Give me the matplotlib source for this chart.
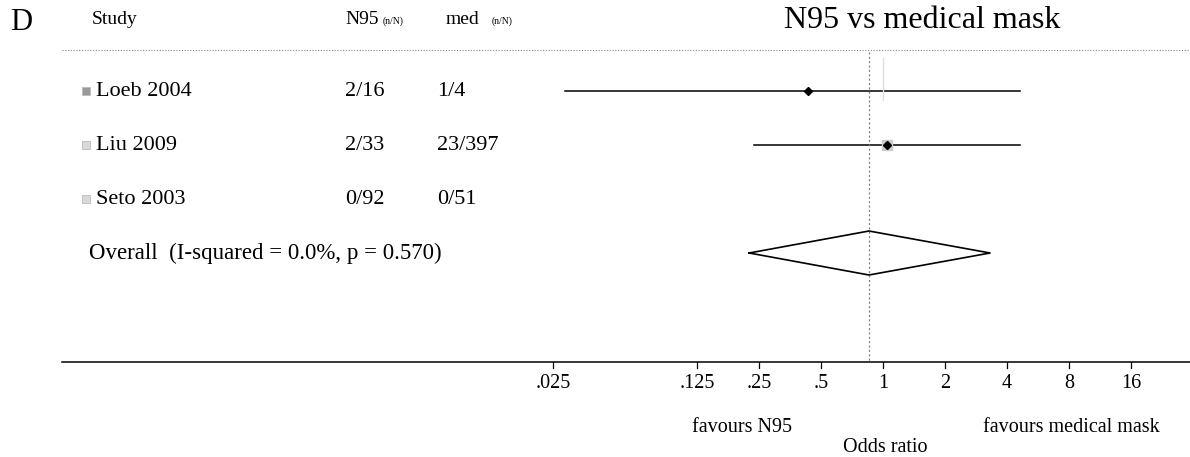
import matplotlib
matplotlib.use('Agg')
import matplotlib.pyplot as plt
import matplotlib.transforms as mtransforms

plt.rcParams['font.family'] = ['Liberation Serif', 'DejaVu Serif']

# study rows
STUDIES   = ['Loeb 2004', 'Liu 2009', 'Seto 2003']
N95_CNT   = ['2/16', '2/33', '0/92']
MED_CNT   = ['1/4', '23/397', '0/51']
OR_EST    = [0.43, 1.05, None]
OR_LO     = [0.0285, 0.236, None]
OR_HI     = [4.65, 4.63, None]
BOX_SHADE = ['#9a9a9a', '#d8d8d8', '#d8d8d8']

# pooled estimate
OVERALL_LABEL = 'Overall  (I-squared = 0.0%, p = 0.570)'
OVERALL_EST   = 0.855
OVERALL_LO    = 0.224
OVERALL_HI    = 3.31

TICK_VALS   = [0.025, 0.125, 0.25, 0.5, 1, 2, 4, 8, 16]
TICK_LABELS = ['.025', '.125', '.25', '.5', '1', '2', '4', '8', '16']

ROW_Y     = [91, 145, 199]
OVERALL_Y = 253
AXIS_Y    = 362
LINE_Y    = 50

W, H = 1190, 457
fig = plt.figure(figsize=(W / 100, H / 100), dpi=100)
ax = fig.add_axes([0, 0, 1, 1])
ax.set_xscale('log', base=2)
ax.set_xlim(2 ** (-883 / 62), 2 ** (307 / 62))
ax.set_ylim(H, 0)
ax.axis('off')

# x in axes fraction, y in data
trans = mtransforms.blended_transform_factory(ax.transAxes, ax.transData)

def px(x):
    return x / W

# header
ax.text(px(10), 22, 'D', transform=trans, fontsize=22, va='center')
ax.text(px(92), 20, 'Study', transform=trans, fontsize=14, va='center')
ax.text(px(345), 20, 'N95', transform=trans, fontsize=14, va='center')
ax.text(px(383), 21, '(n/N)', transform=trans, fontsize=7, va='center')
ax.text(px(446), 20, 'med', transform=trans, fontsize=14, va='center')
ax.text(px(492), 21, '(n/N)', transform=trans, fontsize=7, va='center')
ax.text(px(1060), 20, 'N95 vs medical mask', transform=trans, fontsize=23,
        va='center', ha='right')
ax.axhline(LINE_Y, xmin=px(62), xmax=1, color='#888888', lw=0.8, ls=(0, (1, 1.5)))

# study rows
for i, name in enumerate(STUDIES):
    y = ROW_Y[i]
    ax.plot([px(86)], [y], transform=trans, marker='s', ms=6,
            mfc=BOX_SHADE[i], mec='#bbbbbb', mew=0.6)
    ax.text(px(96), y, name, transform=trans, fontsize=16, va='center')
    ax.text(px(345), y, N95_CNT[i], transform=trans, fontsize=16, va='center')
    ax.text(px(437), y, MED_CNT[i], transform=trans, fontsize=16, va='center')
    if OR_EST[i] is not None:
        ax.plot([OR_LO[i], OR_HI[i]], [y, y], color='black', lw=1.1)
        if i == 1:
            ax.plot([OR_EST[i]], [y], marker='s', ms=7, mfc='#cccccc',
                    mec='#cccccc', zorder=3)
        ax.plot([OR_EST[i]], [y], marker='D', ms=4, color='black', zorder=4)

# overall
ax.text(px(89), OVERALL_Y, OVERALL_LABEL, transform=trans, fontsize=16.5, va='center')
ax.plot([OVERALL_LO, OVERALL_EST, OVERALL_HI, OVERALL_EST, OVERALL_LO],
        [OVERALL_Y, OVERALL_Y - 22, OVERALL_Y, OVERALL_Y + 22, OVERALL_Y],
        color='black', lw=1.2)

# null line (faint) and pooled estimate line
ax.plot([1, 1], [58, 100], color='#dddddd', lw=1)
ax.plot([OVERALL_EST, OVERALL_EST], [LINE_Y + 2, AXIS_Y], color='#777777', lw=0.9,
        ls=(0, (1.5, 2)))

# x axis
ax.axhline(AXIS_Y, xmin=px(62), xmax=1, color='black', lw=1.1)
for v, lab in zip(TICK_VALS, TICK_LABELS):
    ax.plot([v, v], [AXIS_Y, AXIS_Y + 6], color='black', lw=0.9)
    ax.text(v, AXIS_Y + 21, lab, fontsize=14.5, ha='center', va='center')

ax.text(px(742), 427, 'favours N95', transform=trans, fontsize=14.5,
        ha='center', va='center')
ax.text(px(1071), 427, 'favours medical mask', transform=trans, fontsize=14.5,
        ha='center', va='center')
ax.text(px(885), 447, 'Odds ratio', transform=trans, fontsize=14.5,
        ha='center', va='center')

fig.savefig('out.png', dpi=100)
